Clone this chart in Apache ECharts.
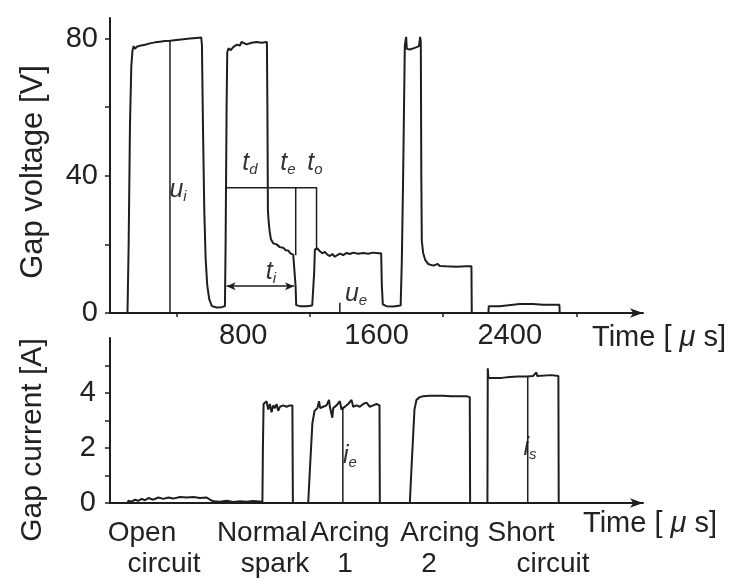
<!DOCTYPE html>
<html>
<head>
<meta charset="utf-8">
<script src="https://cdn.jsdelivr.net/npm/echarts@6/dist/echarts.min.js"></script>
<style>
  html, body { margin: 0; padding: 0; background: #fff; }
  #main { width: 738px; height: 585px; }
</style>
</head>
<body>
<div id="main"></div>
<script>
// gap voltage trace [time us, V]
var voltage = [
  [0,0],[105,0],[112,20],[120,55],[128,72],[135,76.5],[142,77.8],[150,77],[160,77.6],[180,77.9],
  [210,78.2],[240,78.6],[270,78.9],[300,79.1],[330,79.3],[360,79.4],[400,79.6],[440,79.8],[480,80],
  [520,80.2],[548,80.3],[552,78],[558,55],[566,30],[574,16],[584,8],[596,4],[612,2],[640,1.6],
  [670,1.7],[690,2],[694,20],[700,60],[704,76],[712,77.2],[725,76.6],[740,77.5],[760,78.2],[780,78],
  [790,79],[800,78.5],[820,78.3],[850,78.8],[880,79],[910,78.8],[942,79],[945,60],[948,30],[952,27],
  [958,24],[966,21.5],[980,20.3],[1000,20],[1020,19.2],[1040,19],[1055,18.3],[1070,18.2],[1085,17.3],
  [1100,17],[1110,16.8],[1114,8],[1118,2.3],[1140,2],[1180,2],[1214,2.2],[1222,2.5],[1226,12],
  [1230,18.5],[1245,18.8],[1260,18],[1275,17.4],[1290,17.8],[1305,17],[1320,16.6],[1335,17.2],
  [1350,16.4],[1365,16.9],[1380,17.3],[1400,16.9],[1420,17.5],[1440,17.2],[1460,17.6],[1490,17.3],
  [1520,17.5],[1550,17.3],[1580,17.6],[1610,17.4],[1628,17.4],[1632,8],[1638,2.5],[1660,2],
  [1700,1.9],[1745,2.2],[1752,15],[1760,40],[1770,78],[1778,80.5],[1782,77],[1800,76.8],[1830,77.3],
  [1855,77.8],[1862,80.5],[1866,79],[1869,40],[1872,21],[1880,17.5],[1892,15.5],[1910,14.3],
  [1940,13.8],[1968,14.3],[1980,13.7],[2020,13.6],[2080,13.5],[2140,13.6],[2170,13.6],[2172,0],
  [2272,0],[2274,2],[2340,2],[2350,2.4],[2420,2.4],[2460,2.6],[2540,2.6],[2600,2.4],[2698,2.4],
  [2700,0],[3180,0]
];

// gap current trace [time us, A]
var current = [
  [0,0],[105,0],[110,0.08],[130,0.05],[150,0.12],[170,0.08],[190,0.15],[210,0.1],[230,0.18],[260,0.12],
  [290,0.2],[320,0.15],[350,0.2],[380,0.16],[420,0.22],[460,0.2],[500,0.22],[540,0.18],[580,0.2],
  [600,0.12],[620,0.06],[660,0.05],[700,0.08],[740,0.04],[780,0.06],[820,0.05],[860,0.07],[915,0.05],
  [918,2],[922,3.6],[930,3.55],[940,3.7],[950,3.4],[960,3.6],[970,3.3],[980,3.55],[990,3.45],
  [1000,3.6],[1010,3.35],[1020,3.5],[1040,3.55],[1060,3.5],[1080,3.55],[1095,3.55],[1098,0],
  [1190,0],[1200,1.2],[1215,2.9],[1228,3.35],[1245,3.45],[1255,3.7],[1262,3.45],[1280,3.5],
  [1300,3.55],[1315,3.75],[1320,3.5],[1335,3.1],[1340,3.45],[1360,3.55],[1380,3.7],[1390,3.4],
  [1410,3.5],[1430,3.6],[1450,3.75],[1460,3.5],[1480,3.55],[1500,3.5],[1520,3.6],[1540,3.65],
  [1560,3.5],[1580,3.55],[1600,3.6],[1618,3.55],[1620,0],[1800,0],[1812,1.5],[1828,3.4],[1840,3.75],
  [1860,3.85],[1880,3.88],[1920,3.9],[2000,3.9],[2050,3.88],[2140,3.88],[2160,3.85],[2162,0],
  [2266,0],[2268,4.9],[2272,4.55],[2350,4.55],[2400,4.58],[2450,4.6],[2500,4.6],[2540,4.62],
  [2560,4.75],[2565,4.62],[2650,4.65],[2692,4.62],[2694,0],[3180,0]
];

// annotation segments
var uiMarker = [[360,0],[360,79.6]];
var ueMarker = [[1380,0],[1380,3]];
var boxLine = [[700,36.5],[1240,36.5],[1240,18.5]];
var teMarker = [[1115,16.8],[1115,36.5]];
var tiArrow = [[700,7.8],[1105,7.8]];
var ieMarker = [[1398,0],[1398,3.5]];
var isMarker = [[2508,0],[2508,4.58]];

var timeLabels = [800,1600,2400];
var timeTicks = [400,1200,2000,2800];
var voltLabels = [0,40,80];
var voltTicks = [0,20,40,60,80];
var ampLabels = [0,2,4];
var ampTicks = [0,1,2,3,4,5];
var states = [['Open','circuit'],['Normal','spark'],['Arcing','1'],['Arcing','2'],['Short','circuit']];

var FONT = 'Liberation Sans, Arial, sans-serif';
var INK = '#1e1e1e';

function segment(data, x, y, w) {
  return {
    type: 'line', xAxisIndex: x, yAxisIndex: y, data: data,
    showSymbol: false, silent: true,
    lineStyle: { color: INK, width: w || 1.5 }
  };
}

function sub(main, s, x, y) {
  return {
    type: 'text', x: x, y: y,
    style: {
      text: '{b|' + main + '}{s|' + s + '}',
      textAlign: 'center', textVerticalAlign: 'middle',
      rich: {
        b: { fontSize: 25, fontStyle: 'italic', fontFamily: FONT, fill: '#333' },
        s: { fontSize: 15, fontStyle: 'italic', fontFamily: FONT, fill: '#333', padding: [14, 0, 0, 0] }
      }
    }
  };
}

var chart = echarts.init(document.getElementById('main'));

var xStyle = {
  type: 'value', min: 0, max: 3200,
  axisLine: { show: true, lineStyle: { color: INK, width: 2 }, symbol: ['none', 'arrow'], symbolSize: [7, 13] },
  splitLine: { show: false }
};

// category captions under the current plot
var statePos = [[142, 164], [262, 275], [350, 345], [440, 429], [521, 553]];
var graphics = [];
states.forEach(function (s, k) {
  graphics.push({ type: 'text', x: statePos[k][0], y: 533,
    style: { text: s[0], fontSize: 28, fontFamily: FONT, fill: '#222', textAlign: 'center', textVerticalAlign: 'middle' } });
  graphics.push({ type: 'text', x: statePos[k][1], y: 564,
    style: { text: s[1], fontSize: 28, fontFamily: FONT, fill: '#222', textAlign: 'center', textVerticalAlign: 'middle' } });
});
graphics.push(
  { type: 'text', x: 33, y: 172, rotation: Math.PI / 2,
    style: { text: 'Gap voltage [V]', fontSize: 31, fontFamily: FONT, fill: '#222', textAlign: 'center', textVerticalAlign: 'middle' } },
  { type: 'text', x: 33, y: 440, rotation: Math.PI / 2,
    style: { text: 'Gap current [A]', fontSize: 30, fontFamily: FONT, fill: '#222', textAlign: 'center', textVerticalAlign: 'middle' } },
  { type: 'text', x: 592, y: 338,
    style: { text: 'Time [ {m|μ} s]', fontSize: 29, fontFamily: FONT, fill: '#222', textVerticalAlign: 'middle',
      rich: { m: { fontSize: 29, fontStyle: 'italic', fontFamily: FONT, fill: '#222' } } } },
  { type: 'text', x: 583, y: 524,
    style: { text: 'Time [ {m|μ} s]', fontSize: 29, fontFamily: FONT, fill: '#222', textVerticalAlign: 'middle',
      rich: { m: { fontSize: 29, fontStyle: 'italic', fontFamily: FONT, fill: '#222' } } } },
  sub('u', 'i', 178, 190),
  sub('t', 'd', 250, 163),
  sub('t', 'e', 288, 163),
  sub('t', 'o', 315, 163),
  sub('t', 'i', 271, 272),
  sub('u', 'e', 356, 294),
  sub('i', 'e', 350, 456),
  sub('i', 's', 530, 448)
);

var option = {
  animation: false,
  backgroundColor: '#fff',
  grid: [
    { left: 110, top: 18, width: 533, height: 295 },
    { left: 110, top: 338, width: 533, height: 165 }
  ],
  xAxis: [
    Object.assign({}, xStyle, {
      gridIndex: 0,
      axisTick: { show: true, customValues: timeTicks, length: 4, lineStyle: { color: INK, width: 1.5 } },
      axisLabel: { customValues: timeLabels, formatter: function (v) { return String(v); },
        fontSize: 29, fontFamily: FONT, color: '#222', margin: 8 }
    }),
    Object.assign({}, xStyle, {
      gridIndex: 1,
      axisTick: { show: false },
      axisLabel: { show: false }
    })
  ],
  yAxis: [
    {
      gridIndex: 0, type: 'value', min: 0, max: 86,
      axisLine: { show: true, lineStyle: { color: INK, width: 2 } },
      axisTick: { show: true, customValues: voltTicks, length: 5, lineStyle: { color: INK, width: 1.5 } },
      axisLabel: { customValues: voltLabels, fontSize: 29, fontFamily: FONT, color: '#222', margin: 12 },
      splitLine: { show: false }
    },
    {
      gridIndex: 1, type: 'value', min: 0, max: 6,
      axisLine: { show: true, lineStyle: { color: INK, width: 2 } },
      axisTick: { show: true, customValues: ampTicks, length: 5, lineStyle: { color: INK, width: 1.5 } },
      axisLabel: { customValues: ampLabels, fontSize: 29, fontFamily: FONT, color: '#222', margin: 14 },
      splitLine: { show: false }
    }
  ],
  series: [
    segment(voltage, 0, 0, 2),
    segment(current, 1, 1, 2),
    segment(uiMarker, 0, 0),
    segment(ueMarker, 0, 0),
    segment(boxLine, 0, 0),
    segment(teMarker, 0, 0),
    segment(ieMarker, 1, 1),
    segment(isMarker, 1, 1),
    {
      type: 'line', xAxisIndex: 0, yAxisIndex: 0, data: [], silent: true,
      markLine: {
        silent: true, symbol: ['arrow', 'arrow'], symbolSize: [6, 9],
        label: { show: false },
        lineStyle: { color: INK, width: 1.5, type: 'solid' },
        data: [[{ coord: tiArrow[0] }, { coord: tiArrow[1] }]]
      }
    }
  ],
  graphic: graphics
};

chart.setOption(option);
</script>
</body>
</html>
